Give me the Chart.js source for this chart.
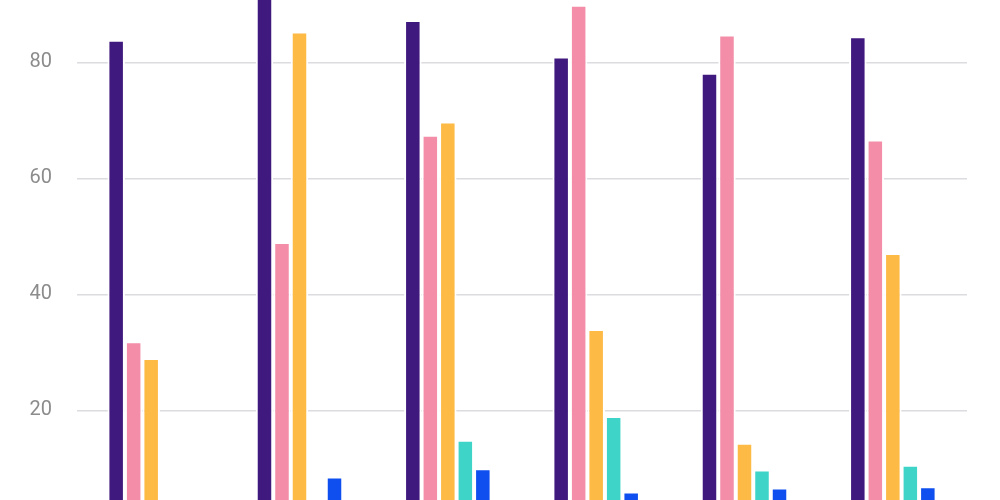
<!DOCTYPE html>
<html>
<head>
<meta charset="utf-8">
<script src="https://cdn.jsdelivr.net/npm/chart.js@4"></script>
<style>
  html, body { margin: 0; padding: 0; background: #fff; }
  #wrap { width: 1000px; height: 500px; position: relative; }
</style>
</head>
<body>
<div id="wrap"><canvas id="chart"></canvas></div>
<script>
const categories = ["Group 1", "Group 2", "Group 3", "Group 4", "Group 5", "Group 6"];
const seriesNames = ["Series 1", "Series 2", "Series 3", "Series 4", "Series 5"];
const series1 = [83.9, 93.0, 87.3, 81.0, 78.2, 84.5];
const series2 = [31.9, 49.0, 67.5, 89.9, 84.8, 66.7];
const series3 = [29.0, 85.3, 69.8, 34.0, 14.4, 47.1];
const series4 = [3.0, 3.0, 14.9, 19.0, 9.8, 10.6];
const series5 = [2.0, 8.6, 10.0, 6.0, 6.7, 6.9];
const yTicks = [20, 40, 60, 80];
const colors = ["#40197f", "#f38da8", "#fdba45", "#3ed5c8", "#0f4fef"];

const allSeries = [series1, series2, series3, series4, series5];

new Chart(document.getElementById("chart"), {
  type: "bar",
  data: {
    labels: categories,
    datasets: allSeries.map((values, i) => ({
      label: seriesNames[i],
      data: values,
      backgroundColor: colors[i],
      borderColor: "#ffffff",
      borderWidth: 2,
      barPercentage: 1,
      categoryPercentage: 0.59,
    })),
  },
  options: {
    responsive: true,
    maintainAspectRatio: false,
    animation: false,
    layout: {
      padding: { left: 0, right: 33, top: 0, bottom: 0 },
    },
    plugins: {
      legend: { display: false },
      tooltip: { enabled: false },
    },
    scales: {
      x: {
        display: false,
      },
      y: {
        min: 4.53,
        max: 90.74,
        border: { display: false },
        grid: {
          color: "#dcdce0",
          lineWidth: 1.5,
          drawTicks: false,
        },
        afterBuildTicks: (scale) => {
          scale.ticks = yTicks.map((v) => ({ value: v }));
        },
        afterFit: (scale) => {
          scale.width = 77;
          scale.paddingTop = 0;
          scale.paddingBottom = 0;
        },
        ticks: {
          padding: 25,
          color: "#8c8c8c",
          font: { family: "Roboto", size: 20 },
        },
      },
    },
  },
});
</script>
</body>
</html>
